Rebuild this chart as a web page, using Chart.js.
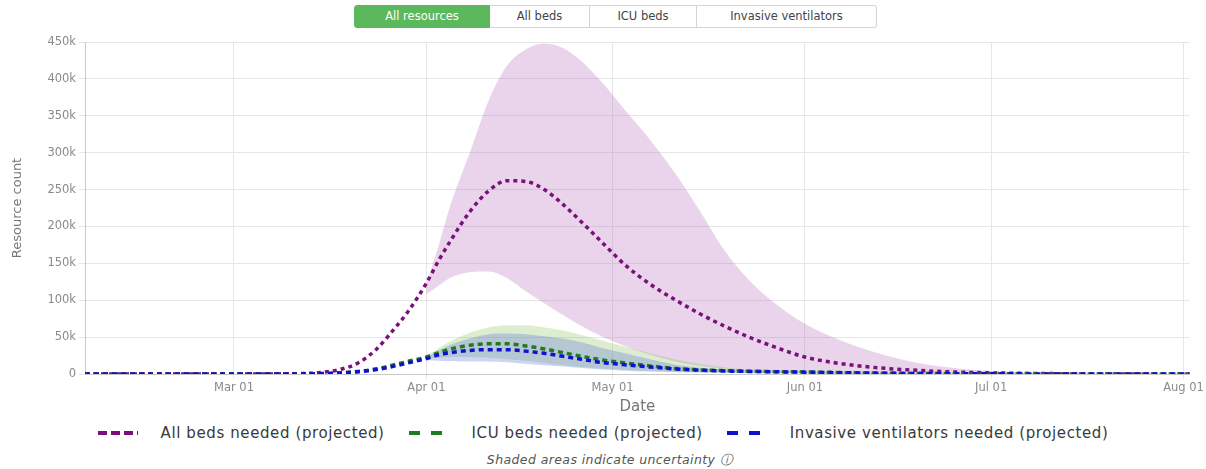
<!DOCTYPE html>
<html>
<head>
<meta charset="utf-8">
<title>Resource use projection</title>
<script src="https://cdn.jsdelivr.net/npm/chart.js@4.4.1/dist/chart.umd.min.js"></script>
<style>
  html, body { margin: 0; padding: 0; background: #fff; }
  body { width: 1206px; height: 469px; position: relative; overflow: hidden; font-family: "DejaVu Sans", sans-serif; }
  #tabs { position: absolute; top: 5px; left: 354px; display: flex; }
  #tabs span { box-sizing: border-box; height: 23px; line-height: 21px; border: 1px solid #d4d4d4; border-left: none; text-align: center; font-size: 11.5px; color: #444; }
  #tabs span:first-child { border-left: 1px solid #d4d4d4; border-radius: 3px 0 0 3px; }
  #tabs span:last-child { border-radius: 0 3px 3px 0; }
  #tabs span.active { background: #5cb85c; border-color: #5cb85c; color: #fff; }
  #chartBox { position: absolute; top: 0; left: 0; width: 1206px; height: 420px; }
  #legend { position: absolute; top: 422px; left: 0; width: 1206px; height: 22px; display: flex; justify-content: center; }
  .item { display: flex; align-items: center; margin: 0 12px; font-size: 15px; color: #3a3a3a; letter-spacing: 0.6px; white-space: nowrap; }
  .item svg { margin-right: 23px; }
  #note { position: absolute; top: 452px; left: 0; width: 1220px; text-align: center; font-size: 12.5px; font-style: italic; color: #555; letter-spacing: 0.4px; }
</style>
</head>
<body>
<div id="tabs">
  <span class="active" style="width:136px">All resources</span>
  <span style="width:100px">All beds</span>
  <span style="width:107px">ICU beds</span>
  <span style="width:180px">Invasive ventilators</span>
</div>
<div id="chartBox"><canvas id="resourceChart" width="1206" height="420"></canvas></div>
<div id="legend"></div>
<div id="note">Shaded areas indicate uncertainty &#9432;</div>

<script>
// Dates of the sampled points (2020)
const dates = [
  '2020-02-06', '2020-03-01', '2020-03-10', '2020-03-15', '2020-03-18', '2020-03-21',
  '2020-03-24', '2020-03-27', '2020-03-29', '2020-04-01', '2020-04-03', '2020-04-05',
  '2020-04-08', '2020-04-11', '2020-04-14', '2020-04-17', '2020-04-20', '2020-04-23',
  '2020-04-26', '2020-04-29', '2020-05-03', '2020-05-07', '2020-05-11', '2020-05-15',
  '2020-05-19', '2020-05-23', '2020-05-27', '2020-06-01', '2020-06-06', '2020-06-12',
  '2020-06-18', '2020-06-24', '2020-07-01', '2020-07-10', '2020-07-20', '2020-08-02'
];

// Projected values (null = no uncertainty band yet)
const allBeds = [
  0, 0, 300, 2000, 6000, 15000, 34000, 63000, 84000, 123000, 154000, 182000,
  220000, 248000, 262000, 261000, 250000, 230000, 206000, 181000, 148000, 122000,
  101000, 82000, 65000, 50000, 37000, 23000, 15000, 9000, 5500, 3000, 1500, 600, 200, 50
];
const allBedsUpper = [
  null, null, null, null, null, null, null, null, null, 122000, 175000, 232000,
  300000, 370000, 418000, 440000, 448000, 442000, 424000, 398000, 358000, 318000,
  273000, 222000, 168000, 127000, 97000, 68000, 48000, 30000, 17000, 9000, 4000, 1500, 500, 100
];
const allBedsLower = [
  null, null, null, null, null, null, null, null, null, 108000, 120000, 131000,
  138000, 139000, 130000, 112000, 96000, 80000, 65000, 52000, 38000, 26000,
  17000, 11000, 7000, 4000, 2500, 1200, 600, 300, 150, 80, 40, 20, 10, 0
];
const icuBeds = [
  0, 0, 100, 500, 1500, 3500, 7000, 13000, 17000, 23000, 29000, 34000,
  39000, 41000, 41000, 38000, 34000, 29000, 24000, 19500, 15000, 11000,
  7500, 5500, 4500, 3800, 3200, 2800, 2000, 1300, 800, 500, 300, 150, 80, 30
];
const icuUpper = [
  null, null, null, null, null, null, null, null, null, 25000, 35000, 45000,
  56000, 63000, 66000, 66000, 63000, 59000, 53000, 46000, 37000, 28000,
  20000, 14000, 9000, 6000, 4500, 3200, 2200, 1400, 900, 500, 300, 150, 80, 30
];
const icuLower = [
  null, null, null, null, null, null, null, null, null, 21000, 22000, 23000,
  23000, 22000, 20000, 18000, 15000, 12000, 9500, 7500, 5500, 4000,
  3000, 2500, 2000, 1600, 1300, 1000, 700, 500, 300, 200, 100, 50, 20, 0
];
const ventilators = [
  0, 0, 100, 500, 1300, 3000, 6000, 11000, 15000, 21000, 26000, 29000,
  32000, 33000, 33000, 31000, 28000, 24000, 20000, 16000, 12500, 9500,
  7000, 5200, 4200, 3500, 3000, 2500, 1800, 1200, 700, 450, 250, 120, 60, 25
];
const ventUpper = [
  null, null, null, null, null, null, null, null, null, 22000, 32000, 40000,
  48000, 54000, 55000, 54000, 51000, 48000, 43000, 36000, 28000, 20000,
  13000, 8500, 6000, 4500, 3500, 2700, 1900, 1300, 800, 500, 280, 140, 70, 25
];
const ventLower = [
  null, null, null, null, null, null, null, null, null, 19000, 18000, 17500,
  17000, 17000, 16000, 14000, 12000, 10000, 8000, 6000, 4500, 3300,
  2500, 2000, 1700, 1400, 1200, 900, 600, 400, 250, 150, 80, 40, 20, 0
];

// Axis ticks
const tickDates = ['2020-03-01', '2020-04-01', '2020-05-01', '2020-06-01', '2020-07-01', '2020-08-01'];
const tickLabels = ['Mar 01', 'Apr 01', 'May 01', 'Jun 01', 'Jul 01', 'Aug 01'];
const yTicks = [0, 50000, 100000, 150000, 200000, 250000, 300000, 350000, 400000, 450000];

// Day of year (Jan 01 = 0)
function dayOf(d) {
  return Math.round((new Date(d) - new Date('2020-01-01')) / 86400000);
}

function points(values) {
  return dates
    .map((d, i) => ({ x: dayOf(d), y: values[i] }))
    .filter(p => p.y !== null);
}

const tickDays = tickDates.map(dayOf);
const axisFont = { family: '"DejaVu Sans", sans-serif', size: 11.5 };

// order: lower number is drawn on top (ventilators over ICU over all beds)
const lines = [
  { label: 'All beds needed (projected)', values: allBeds, color: '#7a107a', dash: [4, 4], legendDash: '9,4', order: 2 },
  { label: 'ICU beds needed (projected)', values: icuBeds, color: '#207a20', dash: [5, 4], legendDash: '11,11', order: 1 },
  { label: 'Invasive ventilators needed (projected)', values: ventilators, color: '#1010d0', dash: [5, 4], legendDash: '11,11', order: 0 }
];

const bands = [
  { upper: ventUpper, lower: ventLower, fill: 'rgba(80, 100, 215, 0.28)', order: 3 },
  { upper: icuUpper, lower: icuLower, fill: 'rgba(140, 195, 100, 0.3)', order: 4 },
  { upper: allBedsUpper, lower: allBedsLower, fill: 'rgba(175, 100, 185, 0.28)', order: 5 }
];

const datasets = lines.map(l => ({
  label: l.label,
  data: points(l.values),
  borderColor: l.color,
  borderWidth: 3.5,
  borderDash: l.dash,
  pointRadius: 0,
  cubicInterpolationMode: 'monotone',
  fill: false,
  order: l.order
}));

bands.forEach(b => {
  datasets.push({
    data: points(b.upper),
    borderWidth: 0,
    borderColor: 'transparent',
    backgroundColor: b.fill,
    pointRadius: 0,
    cubicInterpolationMode: 'monotone',
    fill: '+1',
    order: b.order
  });
  datasets.push({
    data: points(b.lower),
    borderWidth: 0,
    borderColor: 'transparent',
    pointRadius: 0,
    cubicInterpolationMode: 'monotone',
    fill: false,
    order: b.order
  });
});

const ctx = document.getElementById('resourceChart').getContext('2d');
new Chart(ctx, {
  type: 'line',
  data: { datasets },
  options: {
    responsive: false,
    animation: false,
    layout: { padding: { top: 42, right: 16, bottom: 0, left: 0 } },
    plugins: {
      legend: { display: false },
      tooltip: { enabled: false }
    },
    scales: {
      x: {
        type: 'linear',
        min: dayOf(dates[0]),
        max: dayOf(dates[dates.length - 1]),
        afterBuildTicks: scale => { scale.ticks = tickDays.map(v => ({ value: v })); },
        afterFit: scale => { scale.height = 46; },
        ticks: {
          autoSkip: false,
          maxRotation: 0,
          padding: 2,
          color: '#8a8a8a',
          font: axisFont,
          callback: v => tickLabels[tickDays.indexOf(v)]
        },
        grid: { color: '#e6e6e6', tickLength: 5 },
        border: { color: '#c8c8c8' },
        title: {
          display: true,
          text: 'Date',
          color: '#777',
          font: { family: '"DejaVu Sans", sans-serif', size: 15 },
          padding: { top: 4, bottom: 4 }
        }
      },
      y: {
        min: yTicks[0],
        max: yTicks[yTicks.length - 1],
        afterBuildTicks: scale => { scale.ticks = yTicks.map(v => ({ value: v })); },
        afterFit: scale => { scale.width = 85; },
        ticks: {
          color: '#8a8a8a',
          font: axisFont,
          callback: v => v === 0 ? '0' : (v / 1000) + 'k'
        },
        grid: { color: '#e6e6e6', tickLength: 6 },
        border: { color: '#c8c8c8' },
        title: {
          display: true,
          text: 'Resource count',
          color: '#777',
          font: { family: '"DejaVu Sans", sans-serif', size: 13 },
          padding: { top: 10, bottom: 4 }
        }
      }
    }
  }
});

// Legend built from the line series
const legend = document.getElementById('legend');
legend.innerHTML = lines.map(l => `
  <div class="item">
    <svg width="40" height="10"><line x1="0" y1="5" x2="40" y2="5" stroke="${l.color}" stroke-width="4" stroke-dasharray="${l.legendDash}"/></svg>
    <span>${l.label}</span>
  </div>
`).join('');
</script>
</body>
</html>
